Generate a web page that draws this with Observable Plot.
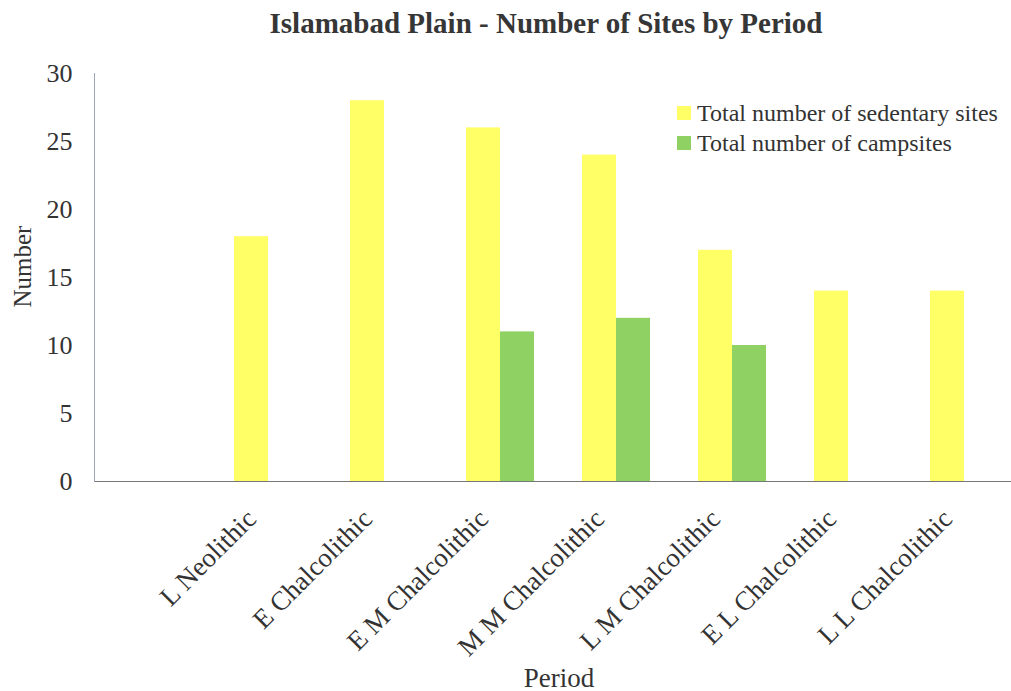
<!DOCTYPE html>
<html><head><meta charset="utf-8">
<script src="https://cdn.jsdelivr.net/npm/d3@7"></script>
<script src="https://cdn.jsdelivr.net/npm/@observablehq/plot@0.6"></script>
<style>
body{margin:0;background:#fff;font-family:"Liberation Serif","Times New Roman",serif;color:#333;}
#wrap{position:relative;width:1011px;height:691px;overflow:hidden;}
#title{height:50px;line-height:46px;width:1092px;text-align:center;font-weight:bold;font-size:29px;color:#363636;}
#legend{position:absolute;left:677px;top:98px;font-size:24px;color:#333;}
.row{display:flex;align-items:center;height:30px;}
.sw{width:14px;height:14px;margin-right:6px;}
</style></head><body>
<div id="wrap">
<div id="title">Islamabad Plain - Number of Sites by Period</div>
<div id="chart"></div>
<div id="legend"></div>
</div>
<script>
const periods = ["L Neolithic","E Chalcolithic","E M Chalcolithic","M M Chalcolithic","L M Chalcolithic","E L Chalcolithic","L L Chalcolithic"];
const sedentary = [18,28,26,24,17,14,14];
const campsites = [0,0,11,12,10,0,0];
const seriesNames = ["Total number of sedentary sites","Total number of campsites"];
const seriesColors = ["#ffff66","#8fd163"];
const yTicks = [0,5,10,15,20,25,30];
const yLabel = "Number";
const xLabel = "Period";

const sedRows = periods.map((p,i)=>({period:p, value:sedentary[i]}));
const campRows = periods.map((p,i)=>({period:p, value:campsites[i]})).filter(d=>d.value>0);

const chart = Plot.plot({
  width: 1011,
  height: 641,
  marginTop: 23,
  marginBottom: 210,
  marginLeft: 94,
  marginRight: 0,
  style: {fontFamily: '"Liberation Serif","Times New Roman",serif', color:"#333", background:"#fff"},
  x: {domain: periods, range: [210, 1022], paddingInner: 0.414, paddingOuter: 0.207, label: null},
  y: {domain: [0, 30], label: null},
  marks: [
    Plot.barY(sedRows, {x:"period", y:"value", fill: seriesColors[0], insetRight: 34}),
    Plot.barY(campRows, {x:"period", y:"value", fill: seriesColors[1], insetLeft: 34}),
    Plot.ruleY([0], {stroke:"#777", strokeWidth:1.2}),
    Plot.frame({anchor:"left", stroke:"#9aa6b8"}),
    Plot.axisY({ticks: yTicks, tickSize: 0, tickPadding: 22, fontSize: 26, label: null}),
    Plot.axisX({tickSize: 0, tickRotate: -45, tickPadding: 33, dx: -17, fontSize: 27, label: null}),
    Plot.text([yLabel], {frameAnchor:"left", rotate:-90, dx:-72, dy:30, fontSize:25, fill:"#333"}),
    Plot.text([xLabel], {frameAnchor:"bottom", dy:205, dx:6, fontSize:27, fill:"#333"})
  ]
});
document.getElementById("chart").appendChild(chart);

const legend = document.getElementById("legend");
seriesNames.forEach((n,i)=>{
  const r = document.createElement("div"); r.className="row";
  const s = document.createElement("div"); s.className="sw"; s.style.background = seriesColors[i];
  const t = document.createElement("span"); t.textContent = n;
  r.appendChild(s); r.appendChild(t); legend.appendChild(r);
});
</script>
</body></html>
